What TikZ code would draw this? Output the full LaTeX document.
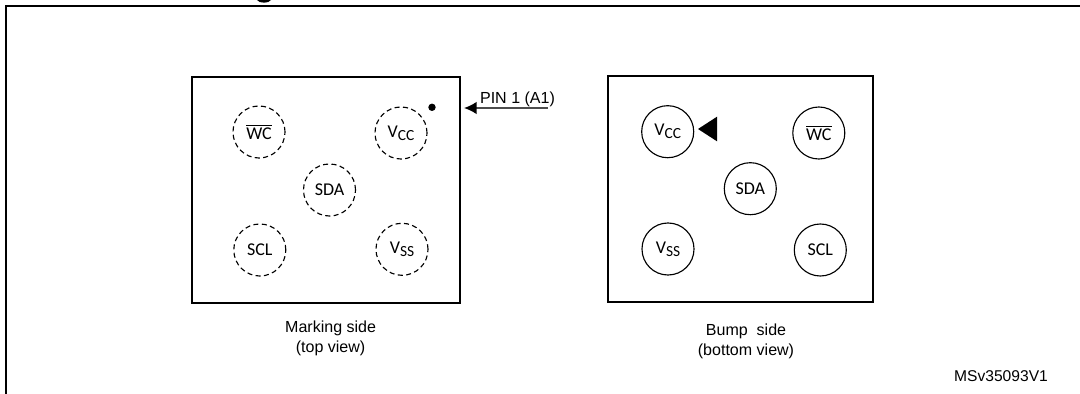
\documentclass[tikz,border=0pt]{standalone}
\usepackage{fontspec}
\setmainfont{Liberation Sans}
\newfontfamily\padfont{Carlito}
\usepackage{tikz}
\usetikzlibrary{positioning, arrows.meta}

\tikzset{
    pkgbox/.style={draw, line width=1.4pt, minimum width=190pt, minimum height=160pt, inner sep=0pt},
    solidpad/.style={circle, draw, line width=0.8pt, minimum size=37pt, inner sep=0pt, font=\padfont\fontsize{12.8}{15}\selectfont},
    dashpad/.style={solidpad, dash pattern=on 3.6pt off 2.4pt},
    caption/.style={align=center, font=\fontsize{11.4}{13.9}\selectfont, inner sep=0pt},
}
\newcommand{\wcbar}{$\overline{\mbox{WC}}$}
\newcommand{\padsub}[1]{\raisebox{-0.35ex}{\fontsize{11}{12}\selectfont #1}}

\begin{document}
\begin{tikzpicture}[x=0.025cm, y=-0.025cm]
    \useasboundingbox (0,0) rectangle (1080,394);

    % Page frame, open at the right and at the bottom
    \coordinate (frametl) at (6,6);
    \draw[line width=1.5pt] (6,394) -- (frametl) -- (1080,6);
    \fill (257,0) .. controls (259,3.6) and (269,3.6) .. (271,0) -- cycle;

    % Marking side
    \node[pkgbox, minimum width=190pt, minimum height=160.5pt] (markbox) at (326,189.7) {};
    \node[dashpad] (markwc) at (259,132) {\wcbar};
    \node[dashpad] (markvcc) at (401,133) {V\padsub{CC}};
    \node[dashpad] (marksda) at (329.5,190) {SDA};
    \node[dashpad] (markscl) at (259.8,250) {SCL};
    \node[dashpad] (markvss) at (402,249.3) {V\padsub{SS}};
    \fill (432,107.3) circle (3.7);

    % Pin 1 pointer
    \coordinate (pintip) at (464,108);
    \coordinate (pinend) at (547.7,108);
    \draw[line width=1.3pt, draw=black!70, -{Latex[length=9pt, width=9pt, black]}] (pinend) -- (pintip);
    \node[font=\fontsize{11.4}{13.9}\selectfont, inner sep=0pt, anchor=base] (pinlabel) at (517.5,104) {PIN 1 (A1)};

    \node[caption] (marktext) at (330.6,338.5) {Marking side\\(top view)};

    % Bump side
    \node[pkgbox, minimum width=188.5pt, minimum height=160.5pt] (bumpbox) at (740.5,189) {};
    \node[solidpad] (bumpvcc) at (667.7,131.7) {V\padsub{CC}};
    \node[solidpad] (bumpwc) at (818.8,133) {\wcbar};
    \node[solidpad] (bumpsda) at (750.3,188.7) {SDA};
    \node[solidpad] (bumpvss) at (668,249) {V\padsub{SS}};
    \node[solidpad] (bumpscl) at (820.3,250) {SCL};
    \fill (698,129) -- (717,116.7) -- (717,141.3) -- cycle;

    \node[caption] (bumptext) at (746,341.5) {Bump\ \ side\\(bottom view)};

    \node[font=\fontsize{11.1}{13}\selectfont, inner sep=0pt] (reftext) at (1001,376) {MSv35093V1};
\end{tikzpicture}
\end{document}
